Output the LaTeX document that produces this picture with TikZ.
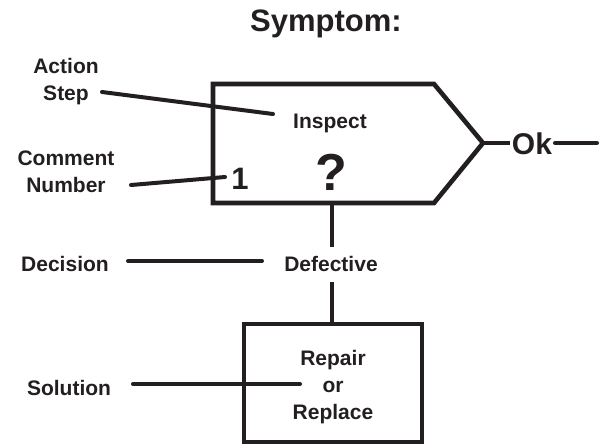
\documentclass[tikz,border=0pt]{standalone}
\usepackage{fontspec}
\setmainfont{Liberation Sans}
\definecolor{ink}{HTML}{231F20}
\begin{document}
\begin{tikzpicture}[x=1pt,y=-1pt,
  lbl/.style={font=\bfseries\fontsize{21}{27.5}\selectfont, text=ink, inner sep=0pt, align=center},
  conn/.style={draw=ink, line width=4pt, line cap=round},
  frame/.style={draw=ink, line width=4.6pt, line join=miter}]
\useasboundingbox (0,0) rectangle (603,445);
% shapes
\draw[frame] (213,84) coordinate (p1) -- (434,84) -- (483,143) coordinate (tip) -- (434,203) -- (213,203) -- cycle;
\coordinate (pbot) at (332,203);
\draw[frame] (244,324) rectangle (422,442);
\coordinate (btop) at (332,324);
% texts
\node[lbl, anchor=base, font=\bfseries\fontsize{31}{31}\selectfont] (title) at (326,31) {Symptom:};
\node[lbl, anchor=base] (action) at (66,100.5) {Action\\Step};
\node[lbl, anchor=base] (comment) at (66,192.5) {Comment\\Number};
\node[lbl, anchor=base] (decision) at (65,271.5) {Decision};
\node[lbl, anchor=base] (solution) at (69,395.5) {Solution};
\node[lbl, anchor=base] (inspect) at (330,128.5) {Inspect};
\node[lbl, anchor=base, font=\bfseries\fontsize{52}{52}\selectfont] (q) at (331,190) {?};
\node[lbl, anchor=base, font=\bfseries\fontsize{31}{31}\selectfont] (num) at (240,189) {1};
\node[lbl, anchor=base, font=\bfseries\fontsize{30}{30}\selectfont] (ok) at (532,154) {Ok};
\node[lbl, anchor=base] (defective) at (331,271.5) {Defective};
\node[lbl, anchor=base, font=\bfseries\fontsize{21}{27}\selectfont] (repair) at (333,419.5) {Repair\\or\\Replace};
% connectors
\coordinate (a1) at (102,92); \coordinate (a2) at (273,114);
\coordinate (c1) at (131,185); \coordinate (c2) at (225,177);
\coordinate (d1) at (128,261); \coordinate (d2) at (262,261);
\coordinate (s1) at (133,384); \coordinate (s2) at (300,384);
\coordinate (v1) at (332,247); \coordinate (v2) at (332,282);
\coordinate (o1) at (510,143); \coordinate (o2) at (555,143); \coordinate (o3) at (597,143);
\draw[conn] (a1) -- (a2);
\draw[conn] (c1) -- (c2);
\draw[conn] (d1) -- (d2);
\draw[conn] (s1) -- (s2);
\draw[conn, line cap=butt] (pbot) -- (v1);
\draw[conn, line cap=butt] (btop) -- (v2);
\draw[conn, line cap=butt] (tip) -- (o1);
\draw[conn] (o2) -- (o3);
\end{tikzpicture}
\end{document}
